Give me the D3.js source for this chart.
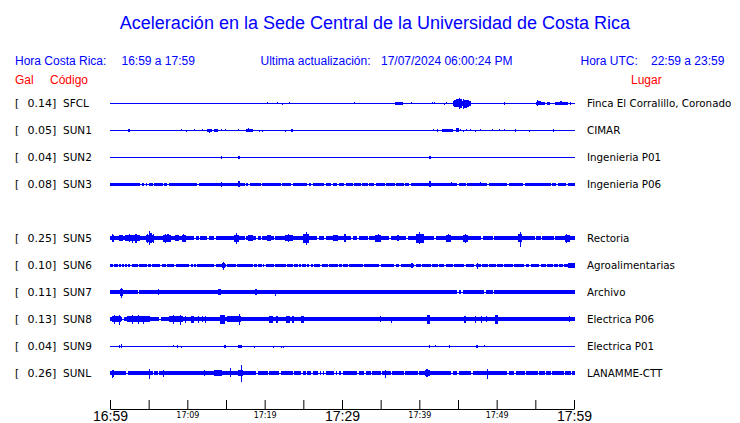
<!DOCTYPE html>
<html><head><meta charset="utf-8">
<script src="https://cdn.jsdelivr.net/npm/d3@7/dist/d3.min.js"></script>
<style>body{margin:0;background:#fff}svg{display:block}</style>
</head><body><svg id="c" width="740" height="423"></svg>
<script>
// ---------- data ----------
const titleText = "Aceleración en la Sede Central de la Universidad de Costa Rica";
const headerLocal = ["Hora Costa Rica:", "16:59 a 17:59"];
const headerUpdate = ["Ultima actualización:", "17/07/2024 06:00:24 PM"];
const headerUTC = ["Hora UTC:", "22:59 a 23:59"];
const colHeaders = ["Gal", "Código", "Lugar"];

const slots = ["SFCL","SUN1","SUN2","SUN3","SUN4","SUN5","SUN6","SUN7","SUN8","SUN9","SUNL"];
const codes = ["SFCL","SUN1","SUN2","SUN3","SUN5","SUN6","SUN7","SUN8","SUN9","SUNL"];
const gals  = ["0.14","0.05","0.04","0.08","0.25","0.10","0.11","0.13","0.04","0.26"];
const places = ["Finca El Corralillo, Coronado","CIMAR","Ingenieria P01","Ingenieria P06",
  "Rectoria","Agroalimentarias","Archivo","Electrica P06","Electrica P01","LANAMME-CTT"];

// background noise level per station [up, down] (relative amplitude units)
const baseAmp = [[0,0],[0,0],[0,0],[1,1],[2,1],[1,1],[2,1],[2,1],[0,0],[2,1]];

// minutes (from 16:59) where noise drops to near zero
const quietSFCL = [], quietSUN1 = [], quietSUN2 = [], quietSUN9 = [];
const quietSUN3 = [4.0,4.5,4.9,5.6,6.9,7.5,11.4,17.5,18.0,19.6,22.2,23.5,25.6,26.1,27.8,28.7,29.5,30.4,31.5,32.5,33.4,34.3,35.6,36.9,38.1,38.8,45.0,46.1,48.9,51.5,53.5,57.1,57.8,59.1];
const quietSUN5 = [11.0,11.6,12.7,13.6,17.5,19.0,19.6,21.3,26.9,27.8,31.3,32.1,33.4,36.2,38.4,42.0,48.1,49.6,55.0,55.8,57.5];
const quietSUN6 = [0.43,1.08,1.51,1.85,2.28,2.72,3.66,4.87,5.39,6.59,7.33,8.40,10.35,10.78,11.21,13.58,15.09,16.38,18.53,19.09,19.70,20.04,21.25,22.84,23.71,24.35,24.78,25.43,25.86,26.29,27.28,28.23,29.53,30.04,30.82,32.76,34.91,36.85,37.50,39.44,40.30,41.60,42.46,43.32,44.40,45.90,47.20,48.06,48.92,50.00,50.86,52.16,53.66,54.31,55.60,56.47,57.33,57.97,58.62];
const quietSUN7 = [3.7,45.0,45.5,48.5,49.6];
const quietSUN8 = [1.7,6.5];
const quietSUNL = [2.2,5.6,6.3,19.0,20.5,22.0,23.7,24.8,25.4,26.1,27.0,27.4,27.8,29.1,29.5,30.0,32.1,33.0,33.8,35.1,36.4,38.1,39.9,44.2,45.0,46.8,51.5,52.4,53.7,55.4,56.3,57.1,58.8,59.7];
const quiet = [quietSFCL,quietSUN1,quietSUN2,quietSUN3,quietSUN5,quietSUN6,quietSUN7,quietSUN8,quietSUN9,quietSUNL];

// bursts: [startMin, endMin, amplitude up, amplitude down]
const burstSFCL = [[20.3,20.3,1,0],[21.6,21.6,1,0],[22.3,22.3,0,1],[23.2,23.2,1,0],[31.5,31.5,1,0],[36.9,37.8,1,1],[38.9,38.9,1,0],[41.6,41.6,1,0],[41.9,41.9,1,0],[43.2,43.2,0,1],[43.5,43.5,1,0],
  [44.3,46.5,2,2],[44.5,44.6,3,3],[44.8,45.0,4,3],[45.1,45.1,5,5],[45.3,45.4,4,4],[45.6,45.6,4,5],[45.8,46.0,3,4],[46.2,46.3,3,3],
  [50.9,51.0,1,1],[55.1,56.1,1,1],[55.2,55.2,3,2],[55.4,55.6,2,1],[56.5,56.8,1,1],[57.5,57.5,1,1],[57.7,59.1,1,1],[58.2,58.3,2,1],[59.5,59.5,1,1]];
const burstSUN1 = [[2.3,2.4,1,1],[9.2,9.2,1,0],[9.8,9.8,0,1],[10.8,10.8,1,0],[11.9,11.9,1,0],[12.5,13.1,1,1],[12.8,12.8,1,2],[13.4,13.9,1,1],[14.4,14.4,1,0],[14.9,14.9,1,0],[16.5,16.5,1,0],[17.6,18.3,1,1],[17.8,17.9,2,1],[19.3,19.3,0,1],[19.6,19.6,0,1],[22.6,22.6,0,1],[23.4,23.5,1,1],[41.8,41.8,1,0],[42.3,42.3,1,1],[42.9,44.2,1,1],[44.7,45.0,2,1],[45.3,45.3,1,0],[45.7,45.7,0,1],[46.0,46.0,1,0],[46.6,46.6,1,0],[47.2,47.2,0,1],[47.9,47.9,1,0],[49.4,49.4,1,0],[50.3,50.3,1,0],[51.0,51.0,1,0],[52.4,52.4,1,1],[54.2,54.2,0,1],[57.3,57.3,1,1]];
const burstSUN2 = [[14.3,14.4,1,1],[16.6,16.7,1,1],[41.3,41.4,1,1]];
const burstSUN3 = [[14.3,14.3,2,2],[16.5,16.7,3,2],[41.2,41.4,3,2],[44.1,44.1,2,1],[47.9,47.9,2,1]];
const burstSUN5 = [[0.2,0.2,4,3],[0.4,0.4,3,3],[1.1,1.5,3,2],[2.0,3.7,3,2],[2.4,2.4,4,3],[2.9,2.9,3,4],[3.2,3.3,4,4],
  [4.7,5.6,3,3],[4.8,4.8,4,4],[5.0,5.0,7,6],[5.2,5.3,5,4],[5.5,5.5,4,4],
  [6.9,7.8,3,3],[7.1,7.1,4,4],[7.4,7.5,4,3],[8.4,8.8,3,2],[9.3,9.7,3,3],[9.5,9.5,4,3],
  [16.0,16.6,3,3],[16.3,16.3,5,5],[17.9,18.3,3,2],[20.3,20.7,3,2],[22.6,23.5,3,2],[23.0,23.0,4,3],
  [25.0,25.6,4,4],[25.3,25.3,6,6],[28.9,29.3,3,2],[30.2,30.4,4,3],[34.3,34.9,3,3],[34.6,34.6,4,3],[37.1,37.3,3,2],
  [39.6,40.5,4,4],[39.9,40.0,6,5],[43.5,44.0,3,3],[43.7,43.7,4,3],[45.7,46.1,3,3],[45.9,45.9,4,4],
  [52.8,53.2,4,3],[53.0,53.0,6,8],[58.8,59.3,3,3],[59.0,59.0,4,4]];
const burstSUN6 = [[14.5,14.8,2,2],[14.6,14.6,3,4],[38.9,39.0,2,2],[47.5,47.5,2,3],[59.2,60,2,2]];
const burstSUN7 = [[1.3,1.6,3,3],[1.4,1.4,4,5],[6.2,6.2,3,2],[14.0,14.2,3,2],[18.8,18.9,3,2],[21.4,21.4,2,3]];
const burstSUN8 = [[0.2,1.3,3,2],[0.5,0.5,4,4],[1.2,1.2,4,5],[2.2,5.0,3,2],[2.8,2.8,4,4],[3.6,3.6,4,4],[4.3,4.3,3,4],[7.6,9.3,3,2],[8.1,8.2,4,4],[9.0,9.0,4,5],[9.7,9.7,3,3],[10.5,10.7,3,3],[11.4,11.4,3,3],[11.9,11.9,3,2],[12.3,12.3,3,3],[14.2,14.7,4,4],[15.1,16.8,3,2],[16.7,16.7,5,5],[20.5,21.0,3,3],[21.5,21.6,3,3],[22.8,23.1,3,3],[23.5,23.6,3,3],[24.7,24.9,3,3],[34.9,34.9,3,2],[36.3,36.3,2,3],[41.0,41.3,4,4],[45.8,45.9,3,3],[47.2,47.2,3,3],[48.0,48.0,3,3],[48.6,48.6,3,2],[49.8,50.1,4,4],[59.3,59.3,3,2]];
const burstSUN9 = [[1.1,1.1,1,1],[1.4,1.4,2,1],[8.2,8.2,1,0],[8.6,8.6,1,1],[9.2,9.2,0,1],[14.8,14.9,1,1],[16.5,17.0,1,1],[18.6,18.6,0,1],[21.1,21.1,0,1],[22.1,22.1,0,1],[22.4,22.4,0,1],[41.2,41.3,1,1],[42.0,42.0,1,0],[43.8,43.8,1,1],[47.3,47.3,1,1],[47.5,47.5,1,1],[48.4,48.4,1,0]];
const burstSUNL = [[0.2,0.4,3,3],[0.3,0.3,3,4],[5.0,5.0,4,5],[6.9,6.9,3,3],[12.1,12.1,3,2],[13.5,14.3,3,2],[15.5,15.5,5,3],[16.6,17.1,3,2],[16.9,16.9,8,8],[35.6,35.6,3,4],[40.7,41.2,3,2],[40.9,41.0,4,3],[48.8,48.8,4,5]];
const bursts = [burstSFCL,burstSUN1,burstSUN2,burstSUN3,burstSUN5,burstSUN6,burstSUN7,burstSUN8,burstSUN9,burstSUNL];

const tickMinutes = [0,5,10,15,20,25,30,35,40,45,50,55,60];
const majorLabels = {0:"16:59",30:"17:29",60:"17:59"};
const minorLabels = {10:"17:09",20:"17:19",40:"17:39",50:"17:49"};

// ---------- drawing ----------
const BLUE = "#0000ff", RED = "#ff0000";
const svg = d3.select("#c");
svg.append("rect").attr("width",740).attr("height",423).attr("fill","#fff");

const x = d3.scaleLinear().domain([0,60]).range([110,574]);
const y = d3.scalePoint().domain(slots).range([103,373]);
const amp = d3.scaleLinear().domain([0,10]).range([0,10]);

svg.append("text").attr("x",375).attr("y",29).attr("text-anchor","middle")
  .attr("font-family","Liberation Sans, Arial, sans-serif").attr("font-size",18).attr("fill",BLUE).text(titleText);

const hf = "Liberation Sans, Arial, sans-serif";
function htext(xp, yp, t, col, anchor){
  svg.append("text").attr("x",xp).attr("y",yp).attr("font-family",hf).attr("font-size",12)
    .attr("fill",col).attr("text-anchor",anchor||"start").text(t);
}
htext(15,65,headerLocal[0],BLUE); htext(121.5,65,headerLocal[1],BLUE);
htext(260.5,65,headerUpdate[0],BLUE); htext(381,65,headerUpdate[1],BLUE);
htext(580.5,65,headerUTC[0],BLUE); htext(651,65,headerUTC[1],BLUE);
htext(15,84,colHeaders[0],RED); htext(50,84,colHeaders[1],RED); htext(631,84,colHeaders[2],RED);

const lf = "DejaVu Sans, sans-serif";
codes.forEach((code,i)=>{
  const c = y(code);
  const g = svg.append("g");
  const txt = (xp,t,fs)=>g.append("text").attr("x",xp).attr("y",c+4).attr("font-family",lf)
      .attr("font-size",fs).attr("fill","#000").text(t);
  txt(15,"[",10.5);
  txt(27.5,gals[i]+"]",11);
  txt(63,code,10.5);
  txt(587,places[i],10.3);

  const x0 = Math.round(x(0)), x1 = Math.round(x(60))+1;
  const tr = g.append("g").attr("shape-rendering","crispEdges");
  const bu = amp(baseAmp[i][0]), bd = amp(baseAmp[i][1]);
  if (bu+bd>0){
    tr.append("rect").attr("x",x0).attr("width",x1-x0).attr("y",c-bu).attr("height",bu+bd+1).attr("fill",BLUE);
    tr.selectAll("rect.q").data(quiet[i]).join("rect").attr("class","q")
      .attr("x",d=>Math.round(x(d-0.1))).attr("width",d=>Math.max(1,Math.round(x(d+0.1))-Math.round(x(d-0.1))))
      .attr("y",c-bu).attr("height",bu+bd+1).attr("fill","#fff");
  }
  tr.append("rect").attr("x",x0).attr("width",x1-x0).attr("y",c).attr("height",1).attr("fill",BLUE);
  tr.selectAll("rect.e").data(bursts[i]).join("rect").attr("class","e")
    .attr("x",d=>Math.round(x(d[0])))
    .attr("width",d=>Math.max(1,Math.round(x(d[1]))-Math.round(x(d[0]))+1))
    .attr("y",d=>c-amp(d[2]))
    .attr("height",d=>amp(d[2])+amp(d[3])+1)
    .attr("fill",BLUE);
});

// axis
const axis = d3.axisBottom(x).tickValues(tickMinutes).tickSizeInner(-9).tickSizeOuter(0)
  .tickFormat(d=>majorLabels[d]||minorLabels[d]||"");
const ag = svg.append("g").attr("transform","translate(0,409)").call(axis);
ag.select(".domain").attr("stroke","#000");
ag.selectAll(".tick line").attr("stroke","#000");
ag.selectAll(".tick text").each(function(d){
  const t = d3.select(this);
  t.attr("dy",null).attr("fill","#000");
  if (majorLabels[d]) t.attr("y",12).attr("font-family",hf).attr("font-size",14);
  else t.attr("y",9).attr("font-family",lf).attr("font-size",8);
});
</script></body></html>
